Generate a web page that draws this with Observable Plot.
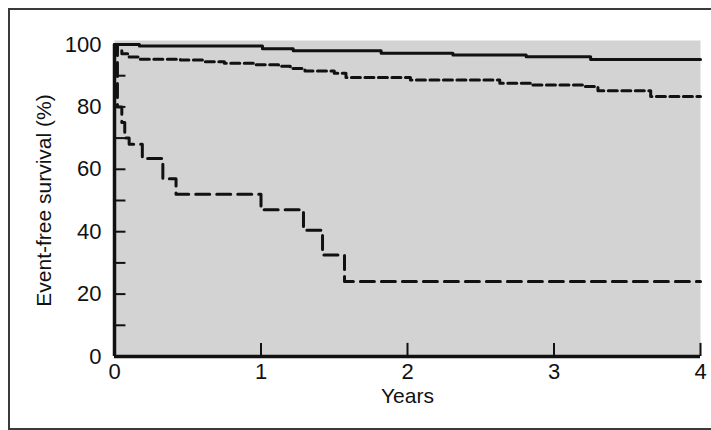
<!DOCTYPE html>
<html>
<head>
<meta charset="utf-8">
<script src="https://cdn.jsdelivr.net/npm/d3@7"></script>
<script src="https://cdn.jsdelivr.net/npm/@observablehq/plot@0.6"></script>
<style>
  html, body { margin: 0; padding: 0; background: #fff; }
  #wrap { position: relative; width: 711px; height: 430px; overflow: hidden; }
  #border { position: absolute; left: 8px; top: 8px; width: 720px; height: 418px;
            border: 2.5px solid #3a3a3a; border-right: none; pointer-events: none; }
  #chart { position: absolute; left: 0; top: 0; }
</style>
</head>
<body>
<div id="wrap"><div id="chart"></div><div id="border"></div></div>
<script>
// Top curve (solid)
const solidYears = [0, 0.17, 1.01, 1.22, 1.82, 2.31, 2.81, 3.25, 4];
const solidSurv  = [100, 99.5, 98.6, 98, 97.2, 96.6, 96.1, 95.2, 95.2];
// Middle curve (short dashes)
const midYears = [0, 0.02, 0.05, 0.1, 0.17, 0.45, 0.62, 0.75, 0.95, 1.12, 1.2, 1.3, 1.5, 1.58, 2.02, 2.63, 2.85, 3.2, 3.3, 3.66, 4];
const midSurv  = [100, 98, 97, 96, 95.3, 95, 94.5, 94, 93.5, 93, 92.3, 91.5, 90.8, 89.4, 88.6, 87.6, 87, 86.5, 85.2, 83.3, 83.3];
// Bottom curve (long dashes)
const lowYears = [0, 0.02, 0.05, 0.07, 0.1, 0.19, 0.33, 0.42, 1.0, 1.29, 1.42, 1.57, 4];
const lowSurv  = [100, 80, 75, 70, 68, 63.5, 57, 52, 47, 40.5, 32.5, 24, 24];

const yTicks = [0, 10, 20, 30, 40, 50, 60, 70, 80, 90, 100];
const yLabels = [0, 20, 40, 60, 80, 100];
const xTicks = [1, 2, 3, 4];
const xLabels = [0, 1, 2, 3, 4];
const yTitle = "Event-free survival (%)";
const xTitle = "Years";

const toRows = (xs, ys) => xs.map((x, i) => ({x, y: ys[i]}));
const solid = toRows(solidYears, solidSurv);
const mid = toRows(midYears, midSurv);
const low = toRows(lowYears, lowSurv);

const ink = "#111";
const plot = Plot.plot({
  width: 711,
  height: 430,
  marginLeft: 114,
  marginRight: 11,
  marginTop: 44,
  marginBottom: 74,
  style: {fontFamily: "'Liberation Sans', Arial, sans-serif", background: "transparent", color: ink},
  x: {domain: [0, 4]},
  y: {domain: [0, 100]},
  marks: [
    Plot.frame({fill: "#d3d3d3", insetTop: -4}),
    Plot.ruleY(yTicks, {x1: 0, x2: 0.078, stroke: ink, strokeWidth: 2}),
    Plot.ruleX(xTicks, {y1: 0, y2: 4.2, stroke: ink, strokeWidth: 2}),
    Plot.line(low, {x: "x", y: "y", curve: "step-after", stroke: ink, strokeWidth: 3, strokeDasharray: "14,7"}),
    Plot.line(mid, {x: "x", y: "y", curve: "step-after", stroke: ink, strokeWidth: 3, strokeDasharray: "9,4.5"}),
    Plot.line(solid, {x: "x", y: "y", curve: "step-after", stroke: ink, strokeWidth: 3}),
    Plot.ruleX([0], {y1: 0, y2: 100, stroke: ink, strokeWidth: 3.5}),
    Plot.ruleY([0], {x1: 0, x2: 4, stroke: ink, strokeWidth: 3.5}),
    Plot.axisY({ticks: yLabels, tickSize: 0, tickPadding: 13, fontSize: 22, tickFormat: d3.format("d"), label: null}),
    Plot.axisX({ticks: xLabels, tickSize: 0, tickPadding: 7, fontSize: 22, tickFormat: d3.format("d"), label: null}),
    Plot.text([yTitle], {frameAnchor: "left", dx: -70, rotate: -90, textAnchor: "middle", lineAnchor: "middle", fontSize: 21, fill: ink}),
    Plot.text([xTitle], {frameAnchor: "bottom", dy: 40, textAnchor: "middle", lineAnchor: "middle", fontSize: 21, fill: ink})
  ]
});
document.getElementById("chart").appendChild(plot);
</script>
</body>
</html>
